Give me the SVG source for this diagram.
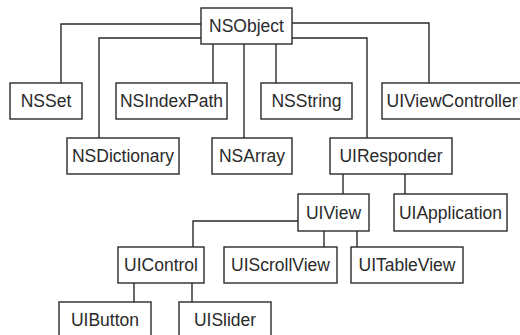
<svg xmlns="http://www.w3.org/2000/svg" width="520" height="335" viewBox="0 0 520 335">
  <style>
    .box { fill: #fff; stroke: #2a2a2a; stroke-width: 1.4; }
    .lbl { font-family: "Liberation Sans", Arial, sans-serif; font-size: 17.5px; fill: #2a2a2a; text-anchor: middle; }
    .wire { fill: none; stroke: #2a2a2a; stroke-width: 1.4; }
  </style>
  <rect width="520" height="335" fill="#fff"/>

  <!-- inheritance connectors -->
  <g id="connectors">
    <path class="wire" d="M201 24 H61 V83"/>
    <path class="wire" d="M201 38 H99 V138"/>
    <path class="wire" d="M213 44 V83"/>
    <path class="wire" d="M244 44 V138"/>
    <path class="wire" d="M276 44 V83"/>
    <path class="wire" d="M292 23 H429 V83"/>
    <path class="wire" d="M292 38 H367 V138"/>
    <path class="wire" d="M343 174 V194"/>
    <path class="wire" d="M405 174 V194"/>
    <path class="wire" d="M298 221 H193 V247"/>
    <path class="wire" d="M324 231 V247"/>
    <path class="wire" d="M357 231 V247"/>
    <path class="wire" d="M134 283 V302"/>
    <path class="wire" d="M192 283 V302"/>
  </g>

  <!-- class nodes -->
  <g id="NSObject"><rect class="box" x="201" y="8" width="91" height="36"/><text class="lbl" x="246.5" y="32">NSObject</text></g>
  <g id="NSSet"><rect class="box" x="10" y="83" width="72" height="36"/><text class="lbl" x="46" y="107">NSSet</text></g>
  <g id="NSIndexPath"><rect class="box" x="116" y="83" width="111" height="36"/><text class="lbl" x="171.5" y="107">NSIndexPath</text></g>
  <g id="NSString"><rect class="box" x="261" y="83" width="91" height="36"/><text class="lbl" x="306.5" y="107">NSString</text></g>
  <g id="UIViewController"><rect class="box" x="382" y="83" width="140" height="36"/><text class="lbl" x="452" y="107">UIViewController</text></g>
  <g id="NSDictionary"><rect class="box" x="67" y="138" width="112" height="36"/><text class="lbl" x="123" y="162">NSDictionary</text></g>
  <g id="NSArray"><rect class="box" x="212" y="138" width="80" height="36"/><text class="lbl" x="252" y="162">NSArray</text></g>
  <g id="UIResponder"><rect class="box" x="330" y="138" width="122" height="36"/><text class="lbl" x="391" y="162">UIResponder</text></g>
  <g id="UIView"><rect class="box" x="298" y="194" width="71" height="37"/><text class="lbl" x="333.5" y="218.5">UIView</text></g>
  <g id="UIApplication"><rect class="box" x="394" y="194" width="113" height="37"/><text class="lbl" x="450.5" y="218.5">UIApplication</text></g>
  <g id="UIControl"><rect class="box" x="118" y="247" width="86" height="36"/><text class="lbl" x="161" y="271">UIControl</text></g>
  <g id="UIScrollView"><rect class="box" x="224" y="247" width="113" height="36"/><text class="lbl" x="280.5" y="271">UIScrollView</text></g>
  <g id="UITableView"><rect class="box" x="351" y="247" width="112" height="36"/><text class="lbl" x="407" y="271">UITableView</text></g>
  <g id="UIButton"><rect class="box" x="59" y="302" width="92" height="40"/><text class="lbl" x="105" y="326">UIButton</text></g>
  <g id="UISlider"><rect class="box" x="179" y="302" width="92" height="40"/><text class="lbl" x="225" y="326">UISlider</text></g>
</svg>
